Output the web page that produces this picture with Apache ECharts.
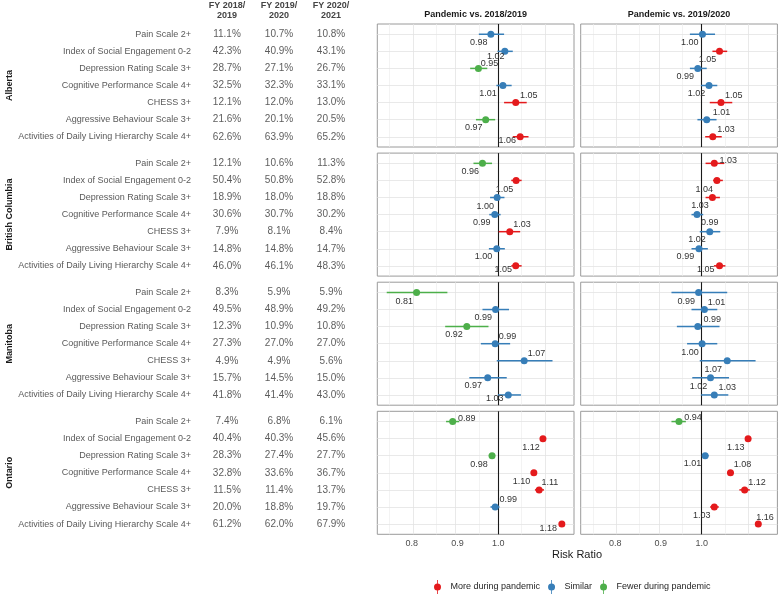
<!DOCTYPE html>
<html><head><meta charset="utf-8">
<script src="https://cdn.jsdelivr.net/npm/echarts@6/dist/echarts.min.js"></script>
<style>html,body{margin:0;padding:0;background:#fff}#c{width:780px;height:597px}</style>
</head><body><div id="c"></div>
<script>
// ---------------- DATA ----------------
const provinces = ['Alberta', 'British Columbia', 'Manitoba', 'Ontario'];
const indicators = ['Pain Scale 2+', 'Index of Social Engagement 0-2', 'Depression Rating Scale 3+',
  'Cognitive Performance Scale 4+', 'CHESS 3+', 'Aggressive Behaviour Scale 3+',
  'Activities of Daily Living Hierarchy Scale 4+'];
const years = ['FY 2018/2019', 'FY 2019/2020', 'FY 2020/2021'];
const comparisons = ['Pandemic vs. 2018/2019', 'Pandemic vs. 2019/2020'];
const xTickValues = [0.8, 0.9, 1.0];
const statusNames = { m: 'More during pandemic', s: 'Similar', f: 'Fewer during pandemic' };
const xAxisTitle = 'Risk Ratio';

// prevalence (%)
const albertaFY1819 = [11.1, 42.3, 28.7, 32.5, 12.1, 21.6, 62.6];
const albertaFY1920 = [10.7, 40.9, 27.1, 32.3, 12.0, 20.1, 63.9];
const albertaFY2021 = [10.8, 43.1, 26.7, 33.1, 13.0, 20.5, 65.2];
const bcFY1819 = [12.1, 50.4, 18.9, 30.6, 7.9, 14.8, 46.0];
const bcFY1920 = [10.6, 50.8, 18.0, 30.7, 8.1, 14.8, 46.1];
const bcFY2021 = [11.3, 52.8, 18.8, 30.2, 8.4, 14.7, 48.3];
const manitobaFY1819 = [8.3, 49.5, 12.3, 27.3, 4.9, 15.7, 41.8];
const manitobaFY1920 = [5.9, 48.9, 10.9, 27.0, 4.9, 14.5, 41.4];
const manitobaFY2021 = [5.9, 49.2, 10.8, 27.0, 5.6, 15.0, 43.0];
const ontarioFY1819 = [7.4, 40.4, 28.3, 32.8, 11.5, 20.0, 61.2];
const ontarioFY1920 = [6.8, 40.3, 27.4, 33.6, 11.4, 18.8, 62.0];
const ontarioFY2021 = [6.1, 45.6, 27.7, 36.7, 13.7, 19.7, 67.9];

// risk ratios: pandemic vs 2018/2019
const albertaRR1819 = [0.981, 1.017, 0.950, 1.012, 1.046, 0.968, 1.058];
const albertaLo1819 = [0.951, 0.998, 0.930, 0.995, 1.015, 0.944, 1.038];
const albertaHi1819 = [1.015, 1.038, 0.972, 1.035, 1.076, 0.992, 1.081];
const albertaSt1819 = ['s', 's', 'f', 's', 'm', 'f', 'm'];
const bcRR1819 = [0.960, 1.047, 0.997, 0.991, 1.030, 0.996, 1.046];
const bcLo1819 = [0.938, 1.034, 0.979, 0.977, 1.001, 0.976, 1.034];
const bcHi1819 = [0.984, 1.062, 1.016, 1.006, 1.058, 1.017, 1.062];
const bcSt1819 = ['f', 'm', 's', 's', 'm', 's', 'm'];
const manitobaRR1819 = [0.810, 0.993, 0.922, 0.992, 1.069, 0.973, 1.026];
const manitobaLo1819 = [0.750, 0.960, 0.872, 0.956, 0.996, 0.928, 0.999];
const manitobaHi1819 = [0.877, 1.028, 0.975, 1.031, 1.150, 1.022, 1.060];
const manitobaSt1819 = ['f', 's', 'f', 's', 's', 's', 's'];
const ontarioRR1819 = [0.889, 1.122, 0.984, 1.096, 1.111, 0.992, 1.178];
const ontarioLo1819 = [0.874, 1.114, 0.976, 1.088, 1.099, 0.980, 1.171];
const ontarioHi1819 = [0.904, 1.130, 0.992, 1.104, 1.125, 1.003, 1.185];
const ontarioSt1819 = ['f', 'm', 'f', 'm', 'm', 's', 'm'];

// risk ratios: pandemic vs 2019/2020
const albertaRR1920 = [1.002, 1.047, 0.990, 1.019, 1.051, 1.013, 1.029];
const albertaLo1920 = [0.970, 1.028, 0.970, 0.998, 1.021, 0.989, 1.009];
const albertaHi1920 = [1.035, 1.068, 1.013, 1.041, 1.082, 1.039, 1.053];
const albertaSt1920 = ['s', 'm', 's', 's', 'm', 's', 'm'];
const bcRR1920 = [1.033, 1.040, 1.028, 0.988, 1.021, 0.993, 1.047];
const bcLo1920 = [1.010, 1.030, 1.010, 0.974, 0.995, 0.974, 1.032];
const bcHi1920 = [1.060, 1.056, 1.048, 1.004, 1.049, 1.016, 1.063];
const bcSt1920 = ['m', 'm', 'm', 's', 's', 's', 'm'];
const manitobaRR1920 = [0.992, 1.007, 0.990, 1.001, 1.068, 1.023, 1.033];
const manitobaLo1920 = [0.925, 0.974, 0.938, 0.963, 0.995, 0.976, 0.998];
const manitobaHi1920 = [1.068, 1.041, 1.047, 1.041, 1.149, 1.073, 1.071];
const manitobaSt1920 = ['s', 's', 's', 's', 's', 's', 's'];
const ontarioRR1920 = [0.943, 1.127, 1.009, 1.077, 1.117, 1.033, 1.157];
const ontarioLo1920 = [0.925, 1.118, 1.001, 1.068, 1.102, 1.022, 1.148];
const ontarioHi1920 = [0.960, 1.136, 1.018, 1.086, 1.132, 1.045, 1.166];
const ontarioSt1920 = ['f', 'm', 's', 'm', 'm', 'm', 'm'];

// ---------------- LAYOUT / STYLE ----------------
const COLORS = { m: '#E41A1C', s: '#377EB8', f: '#4DAF4A' };
const FONT = '"Liberation Sans", Arial, Helvetica, sans-serif';
const FOREST_TOP = [24, 153.1, 282.2, 411.3];
const FOREST_H = 123;
const FOREST_LEFT = [377.3, 580.7];
const FOREST_W = 196.7;
const TABLE_LEFT = 201, TABLE_W = 156;
const ROW_H = FOREST_H / 7.2;
const X_MIN = Math.log(0.732), X_MAX = Math.log(1.2155);
const GRID_MAJOR = [0.8, 0.9, 1.125];
const GRID_MINOR = [0.754, 0.849, 0.949, 1.061];
// label offsets (px) relative to point centre, [province][comparison][row]
const labelOffsets = [
  [[[-12, 8.4], [-9, 5.3], [11, -5], [-15, 8.5], [13, -7], [-12, 8.3], [-13, 4]],
   [[-12.7, 8.4], [-12, 8.6], [-12.6, 8.3], [-12.6, 8.2], [12.7, -6.9], [14.7, -7.4], [13.3, -7]]],
  [[[-12.3, 8.4], [-11.7, 8.6], [-12, 8.6], [-13, 8.2], [12.3, -7.3], [-13.3, 7.4], [-12.4, 3.6]],
   [[14, -3], [-12.6, 8.6], [-12.4, 8.3], [12.7, 8.2], [-12.7, 8.1], [-13.6, 7.7], [-13.7, 3.6]]],
  [[[-12.4, 9], [-12.4, 8], [-12.7, 8], [12.4, -7.3], [12.4, -7], [-14.4, 7.6], [-13.4, 4]],
   [[-12.3, 9], [12, -6.6], [14.4, -7.3], [-12, 9], [-14, 9], [-12, 8.3], [13, -7.4]]],
  [[[14, -3], [-12, 8.7], [-13, 8.7], [-12.3, 8.7], [10.7, -7.3], [13, -7.4], [-13.7, 4]],
   [[14, -3.7], [-12.4, 8.7], [-12.6, 8], [12, -8.3], [12.3, -7.6], [-12.6, 8.3], [6.7, -7]]]
];

// ---------------- BUILD ----------------
const prevalence = [
  [albertaFY1819, albertaFY1920, albertaFY2021],
  [bcFY1819, bcFY1920, bcFY2021],
  [manitobaFY1819, manitobaFY1920, manitobaFY2021],
  [ontarioFY1819, ontarioFY1920, ontarioFY2021]
];
const forest = [
  [[albertaRR1819, albertaLo1819, albertaHi1819, albertaSt1819], [albertaRR1920, albertaLo1920, albertaHi1920, albertaSt1920]],
  [[bcRR1819, bcLo1819, bcHi1819, bcSt1819], [bcRR1920, bcLo1920, bcHi1920, bcSt1920]],
  [[manitobaRR1819, manitobaLo1819, manitobaHi1819, manitobaSt1819], [manitobaRR1920, manitobaLo1920, manitobaHi1920, manitobaSt1920]],
  [[ontarioRR1819, ontarioLo1819, ontarioHi1819, ontarioSt1819], [ontarioRR1920, ontarioLo1920, ontarioHi1920, ontarioSt1920]]
];
const stIdx = { m: 0, s: 1, f: 2 };
const colorArr = [COLORS.m, COLORS.s, COLORS.f];

const grid = [], xAxis = [], yAxis = [], series = [];
provinces.forEach((prov, p) => {
  // table grid
  const tIdx = grid.length;
  grid.push({ left: TABLE_LEFT, width: TABLE_W, top: FOREST_TOP[p] + 0.6 * ROW_H - 0.5 * ROW_H, height: 7 * ROW_H });
  xAxis.push({
    type: 'category', gridIndex: tIdx, data: years, position: 'top', show: p === 0,
    axisLine: { show: false }, axisTick: { show: false }, splitLine: { show: false },
    axisLabel: { interval: 0, margin: 5, fontSize: 9, fontWeight: 'bold', color: '#444', lineHeight: 10,
      formatter: v => v.replace('/', '/\n') }
  });
  yAxis.push({
    type: 'category', gridIndex: tIdx, data: indicators, inverse: true,
    axisLine: { show: false }, axisTick: { show: false }, splitLine: { show: false },
    axisLabel: { interval: 0, margin: 10, fontSize: 9, color: '#5a5a5a' },
    name: prov, nameLocation: 'middle', nameRotate: 90, nameGap: 171,
    nameTextStyle: { fontSize: 9, fontWeight: 'bold', color: '#1a1a1a' }
  });
  const tdata = [];
  prevalence[p].forEach((col, c) => col.forEach((v, r) => tdata.push([c, r, v])));
  series.push({
    type: 'scatter', xAxisIndex: tIdx, yAxisIndex: tIdx, data: tdata, symbolSize: 1, silent: true,
    itemStyle: { color: 'rgba(0,0,0,0)' },
    label: { show: true, position: 'inside', fontSize: 10, color: '#333', formatter: d => d.value[2].toFixed(1) + '%' }
  });

  // forest grids
  [0, 1].forEach(k => {
    const gi = grid.length;
    grid.push({ left: FOREST_LEFT[k], width: FOREST_W, top: FOREST_TOP[p], height: FOREST_H,
      show: true, borderColor: '#9a9a9a', borderWidth: 1, backgroundColor: 'transparent' });
    xAxis.push({
      type: 'value', gridIndex: gi, min: X_MIN, max: X_MAX,
      axisLine: { show: false }, axisTick: { show: false }, splitLine: { show: false },
      axisLabel: { show: p === 3, customValues: xTickValues.map(Math.log), margin: 5, fontSize: 9, color: '#4d4d4d',
        formatter: v => Math.exp(v).toFixed(1) }
    });
    yAxis.push({ type: 'value', gridIndex: gi, min: -0.6, max: 6.6, inverse: true, show: false });

    const [rr, lo, hi, st] = forest[p][k];
    // grid lines + reference line
    const ml = [];
    GRID_MINOR.forEach(v => ml.push({ xAxis: Math.log(v), lineStyle: { color: '#eeeeee', width: 0.7 } }));
    GRID_MAJOR.forEach(v => ml.push({ xAxis: Math.log(v), lineStyle: { color: '#e3e3e3', width: 0.8 } }));
    indicators.forEach((_, i) => ml.push({ yAxis: i, lineStyle: { color: '#e3e3e3', width: 0.8 } }));
    ml.push({ xAxis: 0, lineStyle: { color: '#1a1a1a', width: 1.1 } });
    series.push({
      type: 'scatter', xAxisIndex: gi, yAxisIndex: gi, data: [], z: 1, silent: true,
      markLine: { z: 1, silent: true, symbol: ['none', 'none'], label: { show: false }, animation: false,
        lineStyle: { type: 'solid' }, data: ml }
    });
    // error bars
    series.push({
      type: 'custom', xAxisIndex: gi, yAxisIndex: gi, z: 2, silent: true,
      data: rr.map((_, i) => [Math.log(lo[i]), Math.log(hi[i]), i, stIdx[st[i]]]),
      encode: { x: [0, 1], y: 2 },
      renderItem: (params, api) => {
        const a = api.coord([api.value(0), api.value(2)]);
        const b = api.coord([api.value(1), api.value(2)]);
        return { type: 'rect', shape: { x: a[0], y: a[1] - 0.75, width: b[0] - a[0], height: 1.5 },
          style: { fill: colorArr[api.value(3)], opacity: 1 } };
      }
    });
    // points by status
    ['m', 's', 'f'].forEach(s => {
      const d = [];
      rr.forEach((v, i) => {
        if (st[i] !== s) return;
        d.push({ value: [Math.log(v), i], rr: v,
          label: { offset: labelOffsets[p][k][i] } });
      });
      series.push({
        type: 'scatter', name: statusNames[s], xAxisIndex: gi, yAxisIndex: gi, z: 3,
        symbolSize: 7, itemStyle: { color: COLORS[s], opacity: 1 }, data: d,
        label: { show: true, position: 'inside', fontSize: 9, color: '#333',
          formatter: q => q.data.rr.toFixed(2) }
      });
    });
  });
});

const option = {
  animation: false,
  textStyle: { fontFamily: FONT },
  title: [
    { text: comparisons[0], left: FOREST_LEFT[0] + FOREST_W / 2, top: 10, textAlign: 'center', padding: 0,
      textStyle: { fontSize: 9, fontWeight: 'bold', color: '#1a1a1a', fontFamily: FONT } },
    { text: comparisons[1], left: FOREST_LEFT[1] + FOREST_W / 2, top: 10, textAlign: 'center', padding: 0,
      textStyle: { fontSize: 9, fontWeight: 'bold', color: '#1a1a1a', fontFamily: FONT } },
    { text: xAxisTitle, left: 577, top: 549, textAlign: 'center', padding: 0,
      textStyle: { fontSize: 11, fontWeight: 'normal', color: '#1a1a1a', fontFamily: FONT } }
  ],
  legend: {
    data: [statusNames.m, statusNames.s, statusNames.f], left: 434, top: 580, padding: 0,
    itemWidth: 16, itemHeight: 14, itemGap: 8, selectedMode: false,
    icon: 'path://M3.6,0H4.4V3.6H3.6Z M3.6,10.4H4.4V14H3.6Z M0.5,7A3.5,3.5 0 1,1 7.5,7A3.5,3.5 0 1,1 0.5,7Z',
    textStyle: { fontSize: 9, color: '#262626', fontFamily: FONT }
  },
  grid, xAxis, yAxis, series
};
const chart = echarts.init(document.getElementById('c'), null, { renderer: 'canvas' });
chart.setOption(option);
</script></body></html>
